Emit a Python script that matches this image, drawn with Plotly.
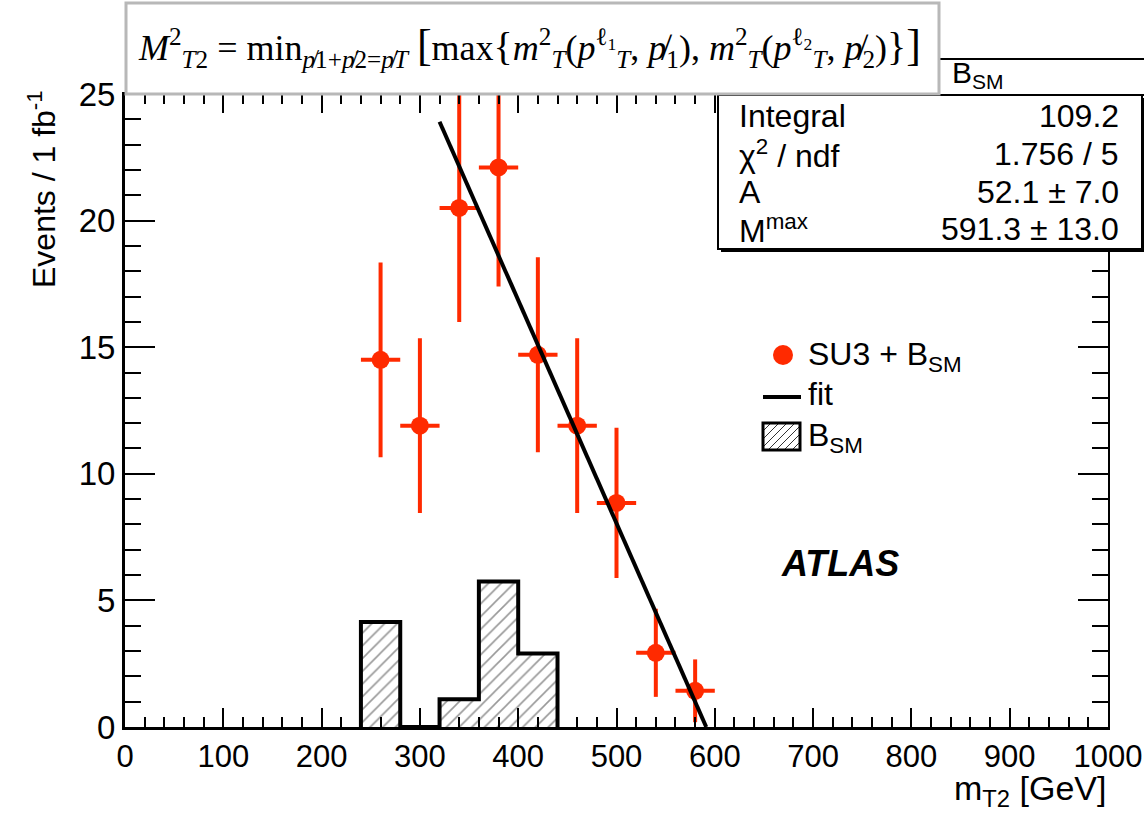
import plotly.graph_objects as go

# ---- data -------------------------------------------------------------
bin_centers = [260, 300, 340, 380, 420, 460, 500, 540, 580]
events = [14.5, 11.9, 20.5, 22.1, 14.7, 11.9, 8.85, 2.93, 1.43]
events_err = [3.85, 3.45, 4.5, 4.7, 3.85, 3.45, 2.97, 1.74, 1.24]
half_bin = [20] * len(bin_centers)

bsm_centers = [260, 300, 340, 380, 420]
bsm_values = [4.15, 0.0, 1.1, 5.75, 2.9]
bin_width = 40

fit_A = 52.1
fit_Mmax = 591.3
fit_start = 320.0

x_ticks = [0, 100, 200, 300, 400, 500, 600, 700, 800, 900, 1000]
y_ticks = [0, 5, 10, 15, 20, 25]

stats_labels = ["Integral", "\u03c7<sup>2</sup> / ndf", "A", "M<sup>max</sup>"]
stats_values = ["109.2", "1.756 / 5", "52.1 \u00b1 7.0", "591.3 \u00b1 13.0"]

legend_labels = ["SU3 + B<sub>SM</sub>", "fit", "B<sub>SM</sub>"]

RED = "#ff2a00"
SANS = "Liberation Sans, Arial, Helvetica, sans-serif"
SERIF = "Liberation Serif, DejaVu Serif, serif"

# ---- figure geometry (pixels) ------------------------------------------
W, H = 1144, 814
L, R, T, B = 125, 1108, 94, 727


def px(x):
    return (x - L) / (R - L)


def py(y):
    return (B - y) / (B - T)


fig = go.Figure()

# background histogram: hatched fill
fig.add_trace(go.Bar(
    x=bsm_centers, y=bsm_values, width=bin_width, name="B_SM",
    marker=dict(color="white", line=dict(width=0),
                pattern=dict(shape="/", fgcolor="#333333", bgcolor="white",
                             size=9, solidity=0.18)),
    hoverinfo="skip",
))

# background histogram: step outline
step_x, step_y = [bsm_centers[0] - bin_width / 2], [0]
for c, v in zip(bsm_centers, bsm_values):
    step_x += [c - bin_width / 2, c + bin_width / 2]
    step_y += [v, v]
step_x.append(bsm_centers[-1] + bin_width / 2)
step_y.append(0)
fig.add_trace(go.Scatter(x=step_x, y=step_y, mode="lines",
                         line=dict(color="black", width=4), hoverinfo="skip"))

# signal + background data points
fig.add_trace(go.Scatter(
    x=bin_centers, y=events, mode="markers", name="SU3 + B_SM",
    marker=dict(color=RED, size=18, symbol="circle"),
    error_y=dict(type="data", array=events_err, color=RED, thickness=4, width=0),
    error_x=dict(type="data", array=half_bin, color=RED, thickness=4, width=0),
))

# linear endpoint fit: A * (1 - m / Mmax), drawn on the framing axes pair
fit_x = [fit_start, fit_Mmax]
fit_y = [fit_A * (1 - x / fit_Mmax) for x in fit_x]
fig.add_trace(go.Scatter(x=fit_x, y=fit_y, mode="lines", name="fit",
                         xaxis="x2", yaxis="y2",
                         line=dict(color="black", width=4)))

shapes = []
annotations = []

# ---- legend (drawn by hand, ROOT style) ----------------------------------
shapes.append(dict(type="circle", xref="paper", yref="paper",
                   x0=px(773), x1=px(793), y0=py(365), y1=py(345),
                   fillcolor=RED, line=dict(width=0)))
shapes.append(dict(type="line", xref="paper", yref="paper",
                   x0=px(763), x1=px(801), y0=py(397), y1=py(397),
                   line=dict(color="black", width=4)))
bx0, bx1, by0, by1 = 763, 800, 423, 450
hatch = []
step = 8
s = bx0 + by0 + step
while s < bx1 + by1:
    xa = max(bx0, s - by1)
    xb = min(bx1, s - by0)
    if xb > xa:
        hatch.append(f"M{px(xa)},{py(s - xa)} L{px(xb)},{py(s - xb)}")
    s += step
shapes.append(dict(type="path", xref="paper", yref="paper", path=" ".join(hatch),
                   line=dict(color="#333333", width=1)))
shapes.append(dict(type="rect", xref="paper", yref="paper",
                   x0=px(bx0), x1=px(bx1), y0=py(by1), y1=py(by0),
                   line=dict(color="black", width=3)))
for lab, yy in zip(legend_labels, [356, 394, 437]):
    annotations.append(dict(xref="paper", yref="paper", x=px(806), y=py(yy),
                            xanchor="left", yanchor="middle", showarrow=False,
                            text=lab, font=dict(family=SANS, size=32, color="black")))

# ---- stats box: title row, shadow, body -----------------------------------
shapes.append(dict(type="rect", xref="paper", yref="paper",
                   x0=px(718), x1=px(1150), y0=py(95), y1=py(59),
                   fillcolor="white", line=dict(color="black", width=2),
                   layer="above"))
shapes.append(dict(type="rect", xref="paper", yref="paper",
                   x0=px(721), x1=px(1146), y0=py(252), y1=py(98),
                   fillcolor="black", line=dict(width=0), layer="above"))
shapes.append(dict(type="rect", xref="paper", yref="paper",
                   x0=px(718), x1=px(1142), y0=py(249), y1=py(95),
                   fillcolor="white", line=dict(color="black", width=2),
                   layer="above"))
# formula box
shapes.append(dict(type="rect", xref="paper", yref="paper",
                   x0=px(126), x1=px(939), y0=py(94), y1=py(3),
                   fillcolor="white", line=dict(color="#b8b8b8", width=3),
                   layer="above"))

annotations.append(dict(xref="paper", yref="paper", x=px(950), y=py(74),
                        xanchor="left", yanchor="middle", showarrow=False,
                        text="B<sub>SM</sub>", font=dict(family=SANS, size=30, color="black")))
row_y = [116, 154, 192, 229]
for lab, val, yy in zip(stats_labels, stats_values, row_y):
    annotations.append(dict(xref="paper", yref="paper", x=px(737), y=py(yy),
                            xanchor="left", yanchor="middle", showarrow=False,
                            text=lab, font=dict(family=SANS, size=32, color="black")))
    annotations.append(dict(xref="paper", yref="paper", x=px(1121), y=py(yy),
                            xanchor="right", yanchor="middle", showarrow=False,
                            text=val, font=dict(family=SANS, size=32, color="black")))

formula = ("<i>M</i><sup>2</sup><sub><i>T</i>2</sub> = min<sub><i>p\u0338</i>1+<i>p\u0338</i>2=<i>p\u0338</i><i>T</i></sub> "
           "<span style='font-size:44px'>[</span>max<span style='font-size:40px'>{</span>"
           "<i>m</i><sup>2</sup><sub><i>T</i></sub>(<i>p</i><sup>\u2113<sub>1</sub></sup><sub><i>T</i></sub>, <i>p\u0338</i><sub>1</sub>), "
           "<i>m</i><sup>2</sup><sub><i>T</i></sub>(<i>p</i><sup>\u2113<sub>2</sub></sup><sub><i>T</i></sub>, <i>p\u0338</i><sub>2</sub>)"
           "<span style='font-size:40px'>}</span><span style='font-size:44px'>]</span>")
annotations.append(dict(xref="paper", yref="paper", x=px(136), y=py(47),
                        xanchor="left", yanchor="middle", showarrow=False,
                        text=formula, font=dict(family=SERIF, size=36, color="black")))

annotations.append(dict(xref="paper", yref="paper", x=px(840), y=py(563),
                        xanchor="center", yanchor="middle", showarrow=False,
                        text="<b><i>ATLAS</i></b>", font=dict(family=SANS, size=36, color="black")))

annotations.append(dict(xref="paper", yref="paper", x=px(42), y=py(88),
                        xanchor="center", yanchor="top", textangle=-90, showarrow=False,
                        text="Events / 1 fb<sup>-1</sup>", font=dict(family=SANS, size=32, color="black")))
annotations.append(dict(xref="paper", yref="paper", x=1.0, y=py(790),
                        xanchor="right", yanchor="middle", showarrow=False,
                        text="m<sub>T2</sub> [GeV]", font=dict(family=SANS, size=34, color="black")))

x_common = dict(range=[0, 1000], tickvals=x_ticks, ticks="inside", ticklen=19,
                tickwidth=2, tickcolor="black", showgrid=False, zeroline=False,
                automargin=False,
                minor=dict(dtick=20, tick0=0, ticks="inside", ticklen=10,
                           tickwidth=2, tickcolor="black", showgrid=False))
y_common = dict(range=[0, 25], tickvals=y_ticks, ticks="inside", ticklen=30,
                tickwidth=2, tickcolor="black", showgrid=False, zeroline=False,
                automargin=False,
                minor=dict(dtick=1, tick0=0, ticks="inside", ticklen=16,
                           tickwidth=2, tickcolor="black", showgrid=False))

fig.update_layout(
    width=W, height=H, autosize=False,
    margin=dict(l=L, r=W - R, t=T, b=H - B, pad=0, autoexpand=False),
    paper_bgcolor="white", plot_bgcolor="white",
    barmode="overlay", bargap=0, showlegend=False,
    shapes=shapes, annotations=annotations,
    xaxis=dict(**x_common, domain=[0, 1], showline=True, linewidth=3, linecolor="black",
               tickfont=dict(family=SANS, size=31, color="black")),
    yaxis=dict(**y_common, domain=[0, 1], showline=True, linewidth=3, linecolor="black",
               tickfont=dict(family=SANS, size=33, color="black")),
    # frame: ticks along the top and right edges
    xaxis2=dict(**x_common, overlaying="x", anchor="y2", side="top",
                showline=True, linewidth=2, linecolor="black", showticklabels=False),
    yaxis2=dict(**y_common, overlaying="y", anchor="x2", side="right",
                showline=True, linewidth=2, linecolor="black", showticklabels=False),
)

fig.write_html("out.html", config={"responsive": False})
